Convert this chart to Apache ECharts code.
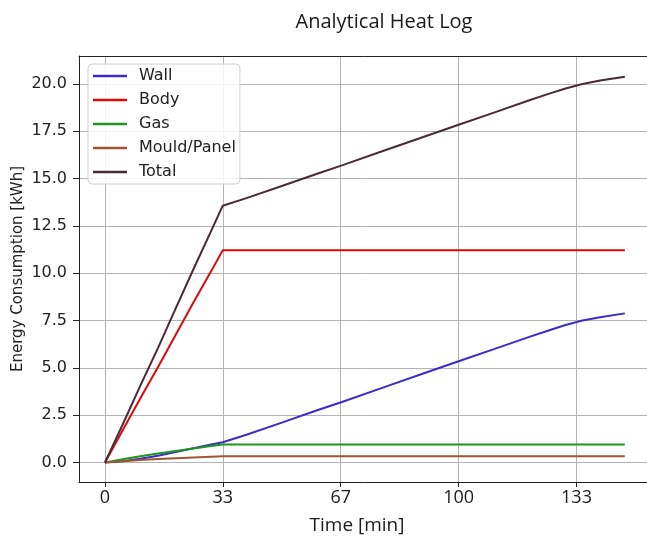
<!DOCTYPE html>
<html>
<head>
<meta charset="utf-8">
<script src="https://cdn.jsdelivr.net/npm/echarts@6/dist/echarts.min.js"></script>
<style>html,body{margin:0;padding:0;background:#fff;}#c{width:647px;height:536px;}</style>
</head>
<body>
<div id="c"></div>
<script>
// Data (time in minutes, energy in kWh)
const time  = [0, 5, 10, 15, 20, 25, 30, 33.3, 40, 50, 60, 67, 80, 90, 100, 110, 120, 125, 130, 135, 140, 147];
const wall  = [0, 0.07, 0.2, 0.36, 0.55, 0.75, 0.95, 1.07, 1.47, 2.11, 2.76, 3.2, 4.05, 4.7, 5.35, 5.99, 6.64, 6.95, 7.25, 7.5, 7.68, 7.88];
const body  = [0, 1.7, 3.4, 5.05, 6.75, 8.45, 10.1, 11.22, 11.22, 11.22, 11.22, 11.22, 11.22, 11.22, 11.22, 11.22, 11.22, 11.22, 11.22, 11.22, 11.22, 11.22];
const gas   = [0, 0.17, 0.33, 0.47, 0.61, 0.74, 0.87, 0.95, 0.95, 0.95, 0.95, 0.95, 0.95, 0.95, 0.95, 0.95, 0.95, 0.95, 0.95, 0.95, 0.95, 0.95];
const mould = [0, 0.07, 0.13, 0.18, 0.23, 0.27, 0.31, 0.33, 0.33, 0.33, 0.33, 0.33, 0.33, 0.33, 0.33, 0.33, 0.33, 0.33, 0.33, 0.33, 0.33, 0.33];
const total = [0, 2.01, 4.06, 6.06, 8.14, 10.21, 12.23, 13.57, 13.97, 14.61, 15.26, 15.7, 16.55, 17.2, 17.85, 18.49, 19.14, 19.45, 19.75, 20.0, 20.18, 20.38];
const seriesNames = ['Wall', 'Body', 'Gas', 'Mould/Panel', 'Total'];
const seriesValues = [wall, body, gas, mould, total];
const colors = ['#3a2bcc', '#dc0a0a', '#1e961e', '#a0562e', '#4a2a33'];
const xTicks = [0, 100/3, 200/3, 100, 400/3];
const yTicks = [0, 2.5, 5, 7.5, 10, 12.5, 15, 17.5, 20];

const chart = echarts.init(document.getElementById('c'), null, {renderer: 'canvas'});
const series = seriesNames.map((name, k) => ({
  name: name,
  type: 'line',
  showSymbol: false,
  symbol: 'none',
  data: time.map((t, i) => [t, seriesValues[k][i]]),
  lineStyle: {color: colors[k], width: 2},
  itemStyle: {color: colors[k]},
  emphasis: {disabled: true},
  z: 3 + k
}));

chart.setOption({
  animation: false,
  backgroundColor: '#fff',
  title: {
    text: 'Analytical Heat Log',
    left: 379, top: 7, textAlign: 'center',
    textStyle: {fontFamily: 'Open Sans', fontSize: 20, fontWeight: 'normal', color: '#1a1a1a'}
  },
  legend: {
    orient: 'vertical',
    left: 88, top: 64,
    padding: [4, 4, 4, 5],
    itemGap: 8,
    itemWidth: 34, itemHeight: 2.5,
    icon: 'rect',
    backgroundColor: 'rgba(255,255,255,0.85)',
    borderColor: '#d0d0d0', borderWidth: 1, borderRadius: 4,
    textStyle: {fontFamily: 'DejaVu Sans', fontSize: 16, color: '#222', lineHeight: 16, padding: [0, 0, 0, 7]},
    data: seriesNames
  },
  grid: {left: 79, top: 56, width: 572, height: 426, show: false, containLabel: false, outerBoundsMode: 'none'},
  xAxis: [{
    type: 'value', min: -7.35, max: 154.4,
    name: 'Time [min]', nameLocation: 'middle', nameGap: 34,
    nameTextStyle: {fontFamily: 'Open Sans', fontSize: 19, color: '#1a1a1a', padding: [0, 16, 0, 0]},
    axisLine: {show: true, onZero: false, lineStyle: {color: '#222', width: 1}},
    axisTick: {show: true, length: 5, lineStyle: {color: '#222'}, customValues: xTicks},
    axisLabel: {customValues: xTicks, margin: 7, fontFamily: 'Open Sans', fontSize: 18, color: '#1a1a1a',
      formatter: v => String(Math.round(v))},
    splitLine: {show: true, lineStyle: {color: '#b4b4b4', width: 1}}
  }, {
    type: 'value', position: 'top', min: -7.35, max: 154.4,
    axisLine: {show: true, onZero: false, lineStyle: {color: '#222', width: 1}},
    axisTick: {show: false}, axisLabel: {show: false}, splitLine: {show: false}
  }],
  yAxis: {
    type: 'value', min: -1.03, max: 21.48,
    name: 'Energy Consumption [kWh]', nameLocation: 'middle', nameGap: 53, nameMoveOverlap: false,
    nameTextStyle: {fontFamily: 'DejaVu Sans', fontSize: 15, color: '#222'},
    axisLine: {show: true, onZero: false, lineStyle: {color: '#222', width: 1}},
    axisTick: {show: true, length: 6, lineStyle: {color: '#222'}, customValues: yTicks},
    axisLabel: {customValues: yTicks, margin: 12, fontFamily: 'DejaVu Sans', fontSize: 16, color: '#222',
      formatter: v => v.toFixed(1)},
    splitLine: {show: true, lineStyle: {color: '#b4b4b4', width: 1}}
  },
  series: series
});
</script>
</body>
</html>
